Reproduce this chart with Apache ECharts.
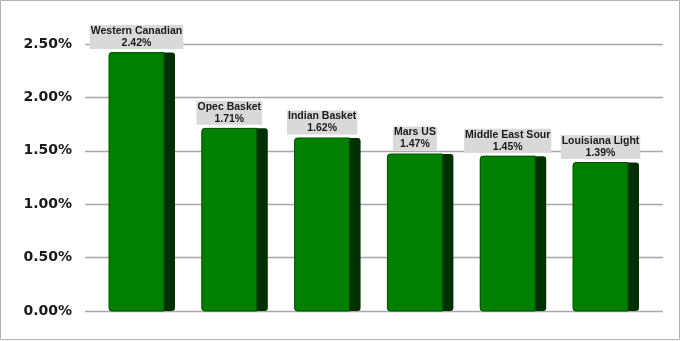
<!DOCTYPE html>
<html>
<head>
<meta charset="utf-8">
<title>Crude spreads</title>
<script src="https://cdn.jsdelivr.net/npm/echarts@6/dist/echarts.min.js"></script>
<style>
  html, body { margin: 0; padding: 0; background: #fff; }
</style>
</head>
<body>
<div id="main" style="width:681px;height:341px;"></div>
<script>
// data
var categories = ['Western Canadian', 'Opec Basket', 'Indian Basket', 'Mars US', 'Middle East Sour', 'Louisiana Light'];
var values = [2.42, 1.71, 1.62, 1.47, 1.45, 1.39];
var yTicks = [0, 0.5, 1.0, 1.5, 2.0, 2.5];

var myChart = echarts.init(document.getElementById('main'));

function renderBar(params, api) {
  var idx = api.value(0);
  var v = api.value(1);
  var top = api.coord([idx, v]);
  var base = api.coord([idx, 0]);
  var band = api.size([1, 0])[0];
  var w = band * 0.711;
  var side = 11;
  var x0 = top[0] - w / 2;
  var h = base[1] - top[1];
  return {
    type: 'group',
    children: [
      { type: 'rect', shape: { x: x0, y: top[1], width: w, height: h, r: 3 },
        style: { fill: '#002f00' } },
      { type: 'rect', shape: { x: x0, y: top[1], width: w - side, height: h, r: [3, 0, 0, 3] },
        style: { fill: '#007f00', stroke: '#005400', lineWidth: 1 } },
      { type: 'text', x: x0 + (w - side) / 2, y: top[1] - 3.5,
        style: {
          text: categories[idx] + '\n' + v.toFixed(2) + '%',
          align: 'center', verticalAlign: 'bottom',
          font: 'bold 10.5px "Liberation Sans", Arial, sans-serif',
          fill: '#1a1a1a', lineHeight: 12,
          backgroundColor: '#d9d9d9', padding: [0, 1, 0, 1]
        } }
    ]
  };
}

var option = {
  animation: false,
  graphic: [{
    type: 'rect', shape: { x: 0.5, y: 0.5, width: 679, height: 339 },
    style: { fill: 'none', stroke: '#b4b4b4', lineWidth: 1 }, z: -1
  }],
  grid: [
    { left: 85, right: 18, top: 44, bottom: 30 },
    { left: 95.6, right: 28.6, top: 44, bottom: 30 }
  ],
  xAxis: [
    { type: 'category', gridIndex: 0, data: categories, show: false },
    { type: 'category', gridIndex: 1, data: categories, show: false }
  ],
  yAxis: [
    { type: 'value', gridIndex: 0, min: yTicks[0], max: yTicks[yTicks.length - 1], interval: 0.5,
      axisLine: { show: false }, axisTick: { show: false },
      splitLine: { lineStyle: { color: '#a8a8a8', width: 1.3 } },
      axisLabel: { margin: 13, color: '#1a1a1a', fontSize: 14, fontWeight: 'bold',
        fontFamily: '"DejaVu Sans", sans-serif', padding: [4, 0, 0, 0],
        formatter: function (v) { return v.toFixed(2) + '%'; } } },
    { type: 'value', gridIndex: 1, min: yTicks[0], max: yTicks[yTicks.length - 1], interval: 0.5, show: false,
      splitLine: { show: false } }
  ],
  series: [{
    type: 'custom',
    xAxisIndex: 1, yAxisIndex: 1,
    renderItem: renderBar,
    data: values.map(function (v, i) { return [i, v]; }),
    z: 3
  }]
};
myChart.setOption(option);
</script>
</body>
</html>
